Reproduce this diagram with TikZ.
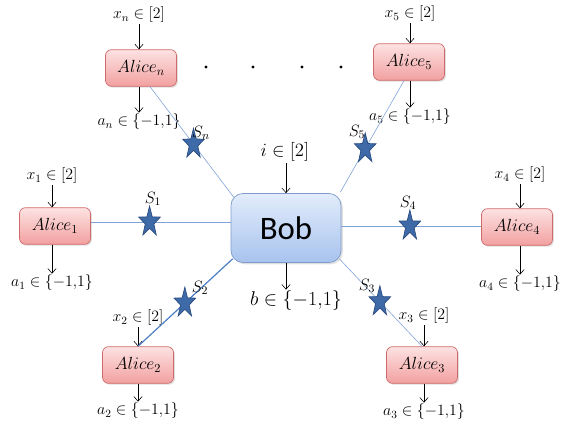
\RequirePackage{fix-cm}
\documentclass[tikz,border=0pt]{standalone}
\usepackage{fontspec}
\newfontfamily\bobfont{Carlito}
\usetikzlibrary{arrows.meta,shapes.geometric,shadows}
\definecolor{alicetop}{HTML}{FDE2E2}
\definecolor{alicebot}{HTML}{F2A0A0}
\definecolor{aliceline}{HTML}{D06A6A}
\definecolor{bobtop}{HTML}{E2ECFB}
\definecolor{bobbot}{HTML}{A8C3EE}
\definecolor{bobline}{HTML}{7F9DCC}
\definecolor{linkblue}{HTML}{7FA3D8}
\definecolor{linkdark}{HTML}{4A7CC4}
\definecolor{starfill}{HTML}{3F6AA8}
\definecolor{starline}{HTML}{2B4C80}
\begin{document}
\begin{tikzpicture}[x=0.03cm,y=-0.03cm,
  alicebox/.style={rectangle, rounded corners=0.18cm, draw=aliceline, line width=0.6pt,
    top color=alicetop, bottom color=alicebot, minimum width=2.13cm, minimum height=1.1cm,
    font=\fontsize{15}{18}\selectfont,
    drop shadow={opacity=0.25, shadow xshift=1.2pt, shadow yshift=-1.2pt}},
  bobbox/.style={rectangle, rounded corners=0.36cm, draw=bobline, line width=0.6pt,
    top color=bobtop, bottom color=bobbot, minimum width=3.3cm, minimum height=2.07cm,
    font=\bobfont\fontsize{28}{32}\selectfont,
    drop shadow={opacity=0.25, shadow xshift=1.5pt, shadow yshift=-1.5pt}},
  lbl/.style={font=\fontsize{13.5}{15}\selectfont, inner sep=1pt},
  slbl/.style={font=\fontsize{14}{16}\selectfont, inner sep=0pt},
  arr/.style={-{Straight Barb[length=4pt,width=7pt]}, line width=0.5pt, black},
  link/.style={draw=linkblue, line width=0.5pt},
  linkthick/.style={draw=linkdark, line width=1pt},
  starnode/.style={star, star points=5, star point ratio=2.5, minimum size=0.68cm,
    inner sep=0pt, fill=starfill, draw=starline, line width=0.6pt,
    transform shape, yscale=1.4}
]
\useasboundingbox (0,0) rectangle (567,428);

% boxes
\node[bobbox] (bob) at (286,228) {Bob};
\node[alicebox] (alicen) at (141,68) {$Alice_n$};
\node[alicebox] (alice5) at (409,62) {$Alice_5$};
\node[alicebox] (alice1) at (55,226) {$Alice_1$};
\node[alicebox] (alice4) at (517,227) {$Alice_4$};
\node[alicebox] (alice2) at (138,365) {$Alice_2$};
\node[alicebox] (alice3) at (422,365) {$Alice_3$};

% input / output labels
\node[lbl] (xn) at (139,15) {$x_n \in [2]$};
\node[lbl] (an) at (139,122) {$a_n \in \{-1{,}1\}$};
\node[lbl] (x5) at (410,14) {$x_5 \in [2]$};
\node[lbl] (a5) at (410,117) {$a_5 \in \{-1{,}1\}$};
\node[lbl] (x1) at (52,176) {$x_1 \in [2]$};
\node[lbl] (a1) at (52,283) {$a_1 \in \{-1{,}1\}$};
\node[lbl] (x4) at (520,175) {$x_4 \in [2]$};
\node[lbl] (a4) at (520,284) {$a_4 \in \{-1{,}1\}$};
\node[lbl] (x2) at (138,318) {$x_2 \in [2]$};
\node[lbl] (a2) at (138,411) {$a_2 \in \{-1{,}1\}$};
\node[lbl] (x3) at (424,316) {$x_3 \in [2]$};
\node[lbl] (a3) at (424,412) {$a_3 \in \{-1{,}1\}$};
\node[lbl, font=\fontsize{16}{18}\selectfont] (ib) at (285,152) {$i \in [2]$};
\node[lbl, font=\fontsize{17}{19}\selectfont] (bb) at (296,301) {$b \in \{-1{,}1\}$};

% black arrows
\foreach \x/\a in {xn/alicen, x5/alice5, x1/alice1, x4/alice4, x2/alice2, x3/alice3}
  \draw[arr] (\x.south) -- (\x.south |- \a.north);
\draw[arr] (bob.north |- ib.south) -- (bob.north);
\foreach \a/\o in {alicen/an, alice5/a5, alice1/a1, alice4/a4, alice2/a2, alice3/a3}
  \draw[arr] (\o.north |- \a.south) -- (\o.north);
\draw[arr] (bob.south) -- (bob.south |- bb.north);

% links with sources
\draw[link] ([xshift=0.27cm]alicen.south) -- node[starnode, pos=0.52] (sn) {} ([xshift=0.09cm, yshift=-0.12cm]bob.north west);
\draw[link] ([xshift=-0.15cm]alice5.south) -- node[starnode, pos=0.61] (s5) {} ([xshift=-0.03cm, yshift=0.03cm]bob.north east);
\draw[link] ([yshift=0.12cm]alice1.east) -- node[starnode, pos=0.42] (s1) {} ([yshift=0.12cm]alice1.east -| bob.west);
\draw[link] ([yshift=0.06cm]bob.east) -- node[starnode, pos=0.49] (s4) {} ([yshift=0.06cm]bob.east -| alice4.west);
\draw[linkthick] ([xshift=0.06cm, yshift=0.12cm]bob.south west) -- node[starnode, pos=0.505] (s2) {} (alice2.north);
\draw[link] ([xshift=-0.06cm, yshift=0.12cm]bob.south east) -- node[starnode, pos=0.49] (s3) {} (alice3.north);

% source labels
\node[slbl] (ln) at (201,133) {$S_n$};
\node[slbl] (l5) at (357,132) {$S_5$};
\node[slbl] (l1) at (153,199) {$S_1$};
\node[slbl] (l4) at (408,203) {$S_4$};
\node[slbl] (l2) at (200,288) {$S_2$};
\node[slbl] (l3) at (367,286) {$S_3$};

% dots
\foreach \d in {206,253,302,341}
  \fill (\d,67) circle (0.05cm);
\end{tikzpicture}
\end{document}
